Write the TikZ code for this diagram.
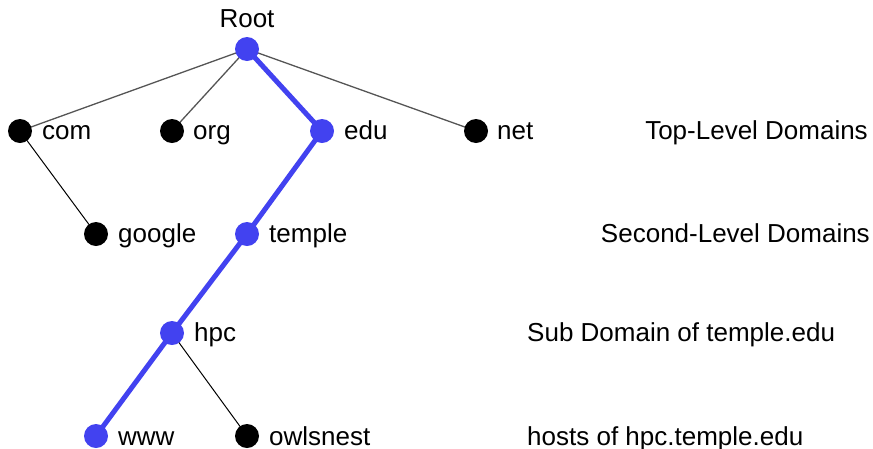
\documentclass[tikz,border=0pt]{standalone}
\usepackage{fontspec}
\setmainfont{Liberation Sans}
\usetikzlibrary{backgrounds}
\definecolor{pathblue}{RGB}{66,66,240}
\definecolor{edgegray}{RGB}{85,85,85}
\begin{document}
\begin{tikzpicture}[x=1pt,y=-1pt,
  dot/.style={circle,fill=black,minimum size=24pt,inner sep=0pt},
  bluedot/.style={dot,fill=pathblue},
  lab/.style={anchor=base west,inner sep=0pt,font=\fontsize{26}{31}\selectfont},
  thinedge/.style={draw=edgegray,line width=1.3pt},
  blackedge/.style={draw=black,line width=1pt},
  pathedge/.style={draw=pathblue,line width=5pt}]
\useasboundingbox (0,0) rectangle (873,448);

% tree nodes
\node[bluedot] (root) at (247,49) {};
\node[dot] (com) at (20,131) {};
\node[dot] (org) at (172,131) {};
\node[bluedot] (edu) at (322,131) {};
\node[dot] (net) at (476,131) {};
\node[dot] (google) at (96,234) {};
\node[bluedot] (temple) at (247,234) {};
\node[bluedot] (hpc) at (172,333) {};
\node[bluedot] (www) at (96,436) {};
\node[dot] (owlsnest) at (247,436) {};

% node names
\node[lab,anchor=base] (rootlab) at (247,27) {Root};
\node[lab] (comlab) at (42,139.5) {com};
\node[lab] (orglab) at (193,139.5) {org};
\node[lab] (edulab) at (344,139.5) {edu};
\node[lab] (netlab) at (497,139.5) {net};
\node[lab] (googlelab) at (118,242.5) {google};
\node[lab] (templelab) at (269,242.5) {temple};
\node[lab] (hpclab) at (194,341.5) {hpc};
\node[lab] (wwwlab) at (118,445) {www};
\node[lab] (owlsnestlab) at (269,445) {owlsnest};

% level descriptions
\node[lab,anchor=base east] (tld) at (868,139.5) {Top-Level Domains};
\node[lab,anchor=base east] (sld) at (870,242.5) {Second-Level Domains};
\node[lab] (sub) at (527,341.5) {Sub Domain of temple.edu};
\node[lab] (hosts) at (527,445) {hosts of hpc.temple.edu};

% connectors behind the dots
\begin{scope}[on background layer]
  \draw[thinedge] (root.center) -- (com.center);
  \draw[thinedge] (root.center) -- (org.center);
  \draw[thinedge] (root.center) -- (net.center);
  \draw[blackedge] (com.center) -- (google.center);
  \draw[blackedge] (hpc.center) -- (owlsnest.center);
  \draw[pathedge] (root.center) -- (edu.center) -- (temple.center) -- (hpc.center) -- (www.center);
\end{scope}
\end{tikzpicture}
\end{document}
